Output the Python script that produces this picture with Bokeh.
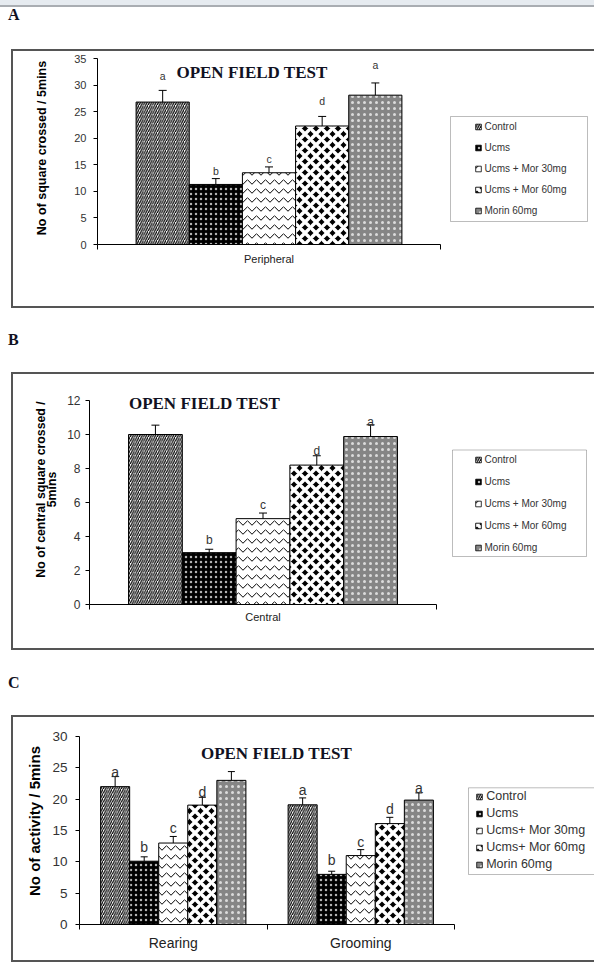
from bokeh.plotting import figure
from bokeh.models import (ColumnDataSource, Range1d, LinearAxis, FixedTicker,
                          Label, Legend, LegendItem, Div, Spacer, BoxAnnotation)
from bokeh.layouts import column, row
from bokeh.embed import file_html
from bokeh.resources import INLINE
from bokeh.core.properties import value

# ------------------------------------------------------------------ data
chart_title = "OPEN FIELD TEST"
series_labels_ab = ["Control", "Ucms", "Ucms + Mor 30mg", "Ucms + Mor 60mg", "Morin 60mg"]
series_labels_c = ["Control", "Ucms", "Ucms+ Mor 30mg", "Ucms+ Mor 60mg", "Morin 60mg"]

a_categories = ["Peripheral"]
a_means = [26.8, 11.3, 13.5, 22.3, 28.1]
a_sem = [2.2, 1.1, 1.1, 1.8, 2.3]
a_letters = ["a", "b", "c", "d", "a"]
a_letter_y = [31.8, 13.9, 16.0, 27.0, 33.8]
a_yticks = [0, 5, 10, 15, 20, 25, 30, 35]
a_ylabel = "No of square crossed / 5mins"

b_categories = ["Central"]
b_means = [10.0, 3.05, 5.05, 8.2, 9.88]
b_sem = [0.55, 0.2, 0.33, 0.55, 0.69]
b_letters = ["", "b", "c", "d", "a"]
b_letter_y = [11.2, 3.78, 5.83, 9.02, 10.72]
b_yticks = [0, 2, 4, 6, 8, 10, 12]
b_ylabel = "No of central square crossed /\n5mins"

c_categories = ["Rearing", "Grooming"]
c_rearing_means = [22.0, 10.1, 13.0, 19.05, 23.0]
c_rearing_sem = [1.6, 0.7, 1.05, 1.25, 1.4]
c_rearing_letters = ["a", "b", "c", "d", ""]
c_rearing_letter_y = [24.3, 12.4, 15.4, 21.2, 26.0]
c_grooming_means = [19.1, 8.0, 11.0, 16.1, 19.85]
c_grooming_sem = [1.1, 0.5, 0.95, 1.0, 1.15]
c_grooming_letters = ["a", "b", "c", "d", "a"]
c_grooming_letter_y = [21.4, 10.35, 13.2, 18.5, 21.8]
c_yticks = [0, 5, 10, 15, 20, 25, 30]
c_ylabel = "No of activity / 5mins"

# ------------------------------------------------------------------ styles
SERIES_STYLE = [
    dict(fill_color="white", hatch_pattern="right_diagonal_line", hatch_color="black", hatch_scale=4.5, hatch_weight=1.2),
    dict(fill_color="black", hatch_pattern="dot", hatch_color="white", hatch_scale=5, hatch_weight=1, hatch_alpha=0.7),
    dict(fill_color="white", hatch_pattern="horizontal_wave", hatch_color="black", hatch_scale=9, hatch_weight=1),
    dict(fill_color="black", hatch_pattern="diagonal_cross", hatch_color="white", hatch_scale=11, hatch_weight=3.5),
    dict(fill_color="#858585", hatch_pattern="dot", hatch_color="white", hatch_scale=6, hatch_weight=1, hatch_alpha=0.7),
]
BAR_W = 0.155
BORDER = 2             # panel box line width (drawn as a ring around the canvas)
CANVAS_LEFT = 13       # page x of the canvases
CANVAS_W = 594 - CANVAS_LEFT
SANS = "Liberation Sans"
SERIF = "Liberation Serif"
BOX_CSS = {"box-shadow": f"0 0 0 {BORDER}px #555555"}


def build_panel(spec):
    ctop, H = spec["canvas_top"], spec["height"]
    fl, fr, ft, fb = spec["frame"]      # page coords of the data area
    cats = spec["cats"]
    n = len(cats)
    ymax = spec["yticks"][-1]
    centers = [k + 0.5 for k in range(n)]

    # the frame runs to the right and top edges of the canvas; the axes are
    # bounded to the data area so texts/legend placed there are not clipped
    px_per_cat = (fr - fl) / n
    x_end = (594 - fl) / px_per_cat
    px_per_unit = (fb - ft) / ymax
    y_end = (fb - ctop) / px_per_unit

    def fx(x):
        return x - fl

    def fy(y):
        return fb - y

    p = figure(width=CANVAS_W, height=H,
               x_range=Range1d(0, x_end), y_range=Range1d(0, y_end),
               output_backend="svg", toolbar_location=None,
               x_axis_location=None, y_axis_location="left",
               min_border_left=round(fl - CANVAS_LEFT), min_border_right=0,
               min_border_top=0, min_border_bottom=round(ctop + H - fb),
               styles=BOX_CSS)
    p.outline_line_color = None
    p.grid.grid_line_color = None
    p.background_fill_color = "white"
    p.border_fill_color = "white"

    # y axis
    ya = p.yaxis[0]
    ya.bounds = (0, ymax)
    ya.ticker = FixedTicker(ticks=spec["yticks"])
    ya.axis_line_color = "black"
    ya.major_tick_line_color = "black"
    ya.major_tick_in = 0
    ya.major_tick_out = 4
    ya.minor_tick_line_color = None
    ya.major_label_text_font = SANS
    ya.major_label_text_font_size = spec["tick_fs"]
    ya.major_label_text_color = "#333333"
    ya.major_label_standoff = spec["tick_standoff"]
    ya.axis_label = spec["ylabel"]
    ya.axis_label_text_font = SANS
    ya.axis_label_text_font_style = "bold"
    ya.axis_label_text_font_size = spec["ylabel_fs"]
    ya.axis_label_text_line_height = 0.8
    ya.axis_label_text_color = "black"
    ya.axis_label_standoff = spec["ylabel_standoff"]

    # x axis: boundary ticks + category labels
    bax = LinearAxis(bounds=(0, n), ticker=FixedTicker(ticks=list(range(n + 1))),
                     axis_line_color="black", major_tick_line_color="black",
                     major_tick_in=0, major_tick_out=5, minor_tick_line_color=None,
                     major_label_text_font_size="1px", major_label_text_alpha=0,
                     major_label_standoff=0)
    p.add_layout(bax, "below")
    cax = LinearAxis(bounds=(0, n), ticker=FixedTicker(ticks=centers),
                     major_label_overrides={c: lab for c, lab in zip(centers, cats)},
                     axis_line_color=None, major_tick_line_color=None,
                     minor_tick_line_color=None,
                     major_label_text_font=SANS,
                     major_label_text_font_size=spec["cat_fs"],
                     major_label_text_color="#222222",
                     major_label_standoff=spec["cat_standoff"])
    p.add_layout(cax, "below")

    # bars, error bars, letters
    proxies = []
    for i, st in enumerate(SERIES_STYLE):
        means = spec["means"][i]
        sems = spec["sems"][i]
        off = (i - 2) * BAR_W
        src = ColumnDataSource(dict(
            x=[c + off for c in centers], top=means,
            errtop=[m + s for m, s in zip(means, sems)],
            lt=spec["letters"][i], ly=spec["letter_y"][i]))
        p.vbar(x="x", top="top", width=BAR_W, source=src, line_color="black",
               line_width=1, **st)
        p.segment(x0="x", y0="top", x1="x", y1="errtop",
                  source=src, line_color="black", line_width=1)
        p.scatter(x="x", y="errtop", source=src,
                  marker="dash", size=spec["cap"], line_color="black", line_width=1)
        p.text(x="x", y="ly", text="lt", source=src,
               text_font=value(SANS), text_font_size=spec["letter_fs"],
               text_align="center", text_baseline="middle", text_color="#333333")
        # zero-size markers on the bars: used only as legend swatches
        proxies.append(p.scatter(x="x", y="top", source=src, marker="square", size=0,
                                 line_color="black", line_width=0.8, **st))

    # legend box
    lb = spec["legend_box"]
    p.add_layout(BoxAnnotation(left=fx(lb[0]), right=fx(lb[1]), top=fy(lb[2]), bottom=fy(lb[3]),
                               left_units="screen", right_units="screen",
                               top_units="screen", bottom_units="screen",
                               fill_color="white", fill_alpha=1,
                               line_color="#222222", line_width=1, level="annotation"))
    # legend
    lg_spec = spec["legend"]
    n_items = len(spec["labels"])
    lg_height = n_items * 15 + (n_items - 1) * lg_spec["spacing"]
    lg_top = lg_spec["first_center"] - 7.5
    items = [LegendItem(label=lab, renderers=[r]) for lab, r in zip(spec["labels"], proxies)]
    lg = Legend(items=items,
                location=(fx(lg_spec["glyph_center"] - 7), fy(lg_top + lg_height)),
                orientation="vertical", padding=0, margin=0,
                spacing=lg_spec["spacing"], glyph_width=14, glyph_height=15,
                label_height=15, label_standoff=0,
                label_text_font=SANS, label_text_font_size=lg_spec["fs"],
                label_text_color="#333333",
                border_line_color=None, background_fill_alpha=0)
    p.add_layout(lg)

    # chart title
    tx, ty = spec["title_pos"]
    p.add_layout(Label(x=fx(tx), y=fy(ty), x_units="screen", y_units="screen",
                       text=chart_title, text_font=SERIF, text_font_style="bold",
                       text_font_size="17px", text_color="#111122",
                       text_align="center", text_baseline="middle"))
    return p


LETTER_CSS = ("margin:0;padding-left:8px;font-family:'Liberation Serif';font-weight:bold;"
              "font-size:16px;line-height:16px;color:#111122;")


def panel_letter(letter, height, pad_top, band=False):
    head = ""
    if band:
        head = ('<div style="display:block;width:594px;height:7px;background:#e6ebf0;'
                'border-bottom:2px solid #a9adb2;margin:0;"></div>')
    html = f'{head}<div style="{LETTER_CSS}padding-top:{pad_top}px;">{letter}</div>'
    return Div(text=html, width=594, height=height, margin=0)


spec_a = dict(canvas_top=51, height=255, frame=(97, 440, 58, 244),
              cats=a_categories, yticks=a_yticks, ylabel=a_ylabel,
              means=[[v] for v in a_means], sems=[[v] for v in a_sem],
              letters=[[v] for v in a_letters], letter_y=[[v] for v in a_letter_y],
              labels=series_labels_ab,
              tick_fs="11px", tick_standoff=7, ylabel_fs="12.5px", ylabel_standoff=22,
              cat_fs="11px", cat_standoff=-3, letter_fs="10.5px", cap=8,
              legend_box=(450, 587, 116, 221),
              legend=dict(glyph_center=477.5, first_center=126.7, spacing=6, fs="10px"),
              title_pos=(251.5, 72))

spec_b = dict(canvas_top=374, height=274, frame=(89, 436, 400, 604),
              cats=b_categories, yticks=b_yticks, ylabel=b_ylabel,
              means=[[v] for v in b_means], sems=[[v] for v in b_sem],
              letters=[[v] for v in b_letters], letter_y=[[v] for v in b_letter_y],
              labels=series_labels_ab,
              tick_fs="12px", tick_standoff=5, ylabel_fs="12.3px", ylabel_standoff=5,
              cat_fs="11px", cat_standoff=-5, letter_fs="12px", cap=8,
              legend_box=(452, 586, 449.5, 556),
              legend=dict(glyph_center=477.5, first_center=459, spacing=7, fs="10px"),
              title_pos=(204, 402.7))

spec_c = dict(canvas_top=717, height=243, frame=(79, 454, 736, 924),
              cats=c_categories, yticks=c_yticks, ylabel=c_ylabel,
              means=[[r, g] for r, g in zip(c_rearing_means, c_grooming_means)],
              sems=[[r, g] for r, g in zip(c_rearing_sem, c_grooming_sem)],
              letters=[[r, g] for r, g in zip(c_rearing_letters, c_grooming_letters)],
              letter_y=[[r, g] for r, g in zip(c_rearing_letter_y, c_grooming_letter_y)],
              labels=series_labels_c,
              tick_fs="13.5px", tick_standoff=8, ylabel_fs="15px", ylabel_standoff=6,
              cat_fs="14px", cat_standoff=-1, letter_fs="14px", cap=7,
              legend_box=(468, 610, 787.3, 874),
              legend=dict(glyph_center=479.2, first_center=796, spacing=2, fs="12.5px"),
              title_pos=(276, 753.3))

pa = build_panel(spec_a)
pb = build_panel(spec_b)
pc = build_panel(spec_c)


def boxed(p):
    return row(Spacer(width=CANVAS_LEFT, height=p.height, margin=0), p, spacing=0)


# page rows: letter A (0-51), panel A (51-306), letter B (306-374), panel B (374-648),
# letter C (648-717), panel C (717-960)
layout = column(panel_letter("A", 51, 0, band=True), boxed(pa),
                panel_letter("B", 68, 26), boxed(pb),
                panel_letter("C", 69, 27), boxed(pc),
                spacing=0)
open("out.html", "w").write(file_html(layout, INLINE))
